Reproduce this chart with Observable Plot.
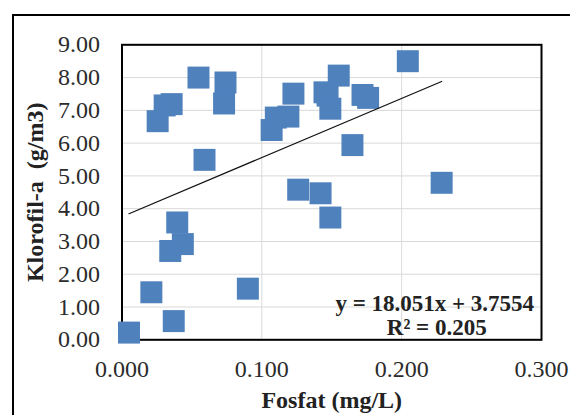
<!DOCTYPE html>
<html><head><meta charset="utf-8">
<script src="https://cdn.jsdelivr.net/npm/d3@7"></script>
<script src="https://cdn.jsdelivr.net/npm/@observablehq/plot@0.6"></script>
<style>
html,body{margin:0;padding:0;background:#fff;}
body{width:570px;height:415px;overflow:hidden;position:relative;}
#chart{position:absolute;left:0;top:0;}
#border{position:absolute;left:12px;top:13.5px;width:640px;height:520px;border:2.5px solid #000;pointer-events:none;}
</style></head><body>
<div id="chart"></div>
<div id="border"></div>
<script>
const fosfat = [0.005, 0.021, 0.037, 0.0345, 0.0435, 0.0395, 0.0255, 0.0305, 0.0355, 0.0547,
                0.059, 0.074, 0.073, 0.090, 0.107, 0.110, 0.119, 0.1226, 0.126, 0.142,
                0.149, 0.1448, 0.147, 0.149, 0.155, 0.1648, 0.172, 0.176, 0.2044, 0.2286];
const klorofil = [0.22, 1.45, 0.57, 2.71, 2.92, 3.58, 6.67, 7.15, 7.19, 8.00,
                  5.49, 7.85, 7.21, 1.56, 6.40, 6.78, 6.81, 7.51, 4.58, 4.47,
                  3.73, 7.55, 7.45, 7.05, 8.06, 5.94, 7.47, 7.38, 8.50, 4.79];
const xTicks = [0, 0.1, 0.2, 0.3];
const yTicks = [0, 1, 2, 3, 4, 5, 6, 7, 8, 9];
const slope = 18.051;
const intercept = 3.7554;
const eqLabel = "y = 18.051x + 3.7554";
const r2Label = "R² = 0.205";
const xTitle = "Fosfat (mg/L)";
const yTitle = "Klorofil-a\u00a0 (g/m3)";

const points = fosfat.map((x, i) => ({x, y: klorofil[i]}));
const xMin = d3.min(fosfat), xMax = d3.max(fosfat);
const trend = [xMin, xMax].map(x => ({x, y: slope * x + intercept}));

const serif = "'Liberation Serif', 'Times New Roman', serif";
const chart = Plot.plot({
  width: 570,
  height: 415,
  marginLeft: 121.5,
  marginRight: 29,
  marginTop: 44.3,
  marginBottom: 75.7,
  style: {fontFamily: serif, fontSize: "24px", color: "#2b2b2b", background: "transparent", overflow: "visible"},
  x: {domain: [0, 0.3]},
  y: {domain: [0, 9]},
  marks: [
    Plot.gridX(xTicks, {stroke: "#d9d9d9", strokeOpacity: 1, strokeWidth: 1}),
    Plot.gridY(yTicks, {stroke: "#d9d9d9", strokeOpacity: 1, strokeWidth: 1}),
    Plot.axisX(xTicks, {tickSize: 0, tickPadding: 20, tickFormat: d3.format(".3f"), label: null}),
    Plot.axisY(yTicks, {tickSize: 0, tickPadding: 22, tickFormat: d3.format(".2f"), label: null}),
    Plot.frame({stroke: "#000", strokeWidth: 2}),
    Plot.dot(points, {x: "x", y: "y", symbol: "square", r: 12.4, fill: "#4F81BD", stroke: "none"}),
    Plot.line(trend, {x: "x", y: "y", stroke: "#111", strokeWidth: 1.2}),
    Plot.text([eqLabel], {frameAnchor: "bottom", dx: 103, dy: -36, lineAnchor: "middle", textAnchor: "middle", fontWeight: "bold", fontSize: 23, fill: "#222"}),
    Plot.text([r2Label], {frameAnchor: "bottom", dx: 105, dy: -12, lineAnchor: "middle", textAnchor: "middle", fontWeight: "bold", fontSize: 23, fill: "#222"}),
    Plot.text([xTitle], {frameAnchor: "bottom", dy: 61, lineAnchor: "middle", textAnchor: "middle", fontWeight: "bold", fontSize: 24, fill: "#222"}),
    Plot.text([yTitle], {frameAnchor: "left", dx: -86.5, rotate: -90, lineAnchor: "middle", textAnchor: "middle", fontWeight: "bold", fontSize: 24, fill: "#222"})
  ]
});
document.getElementById("chart").appendChild(chart);
</script>
</body></html>
